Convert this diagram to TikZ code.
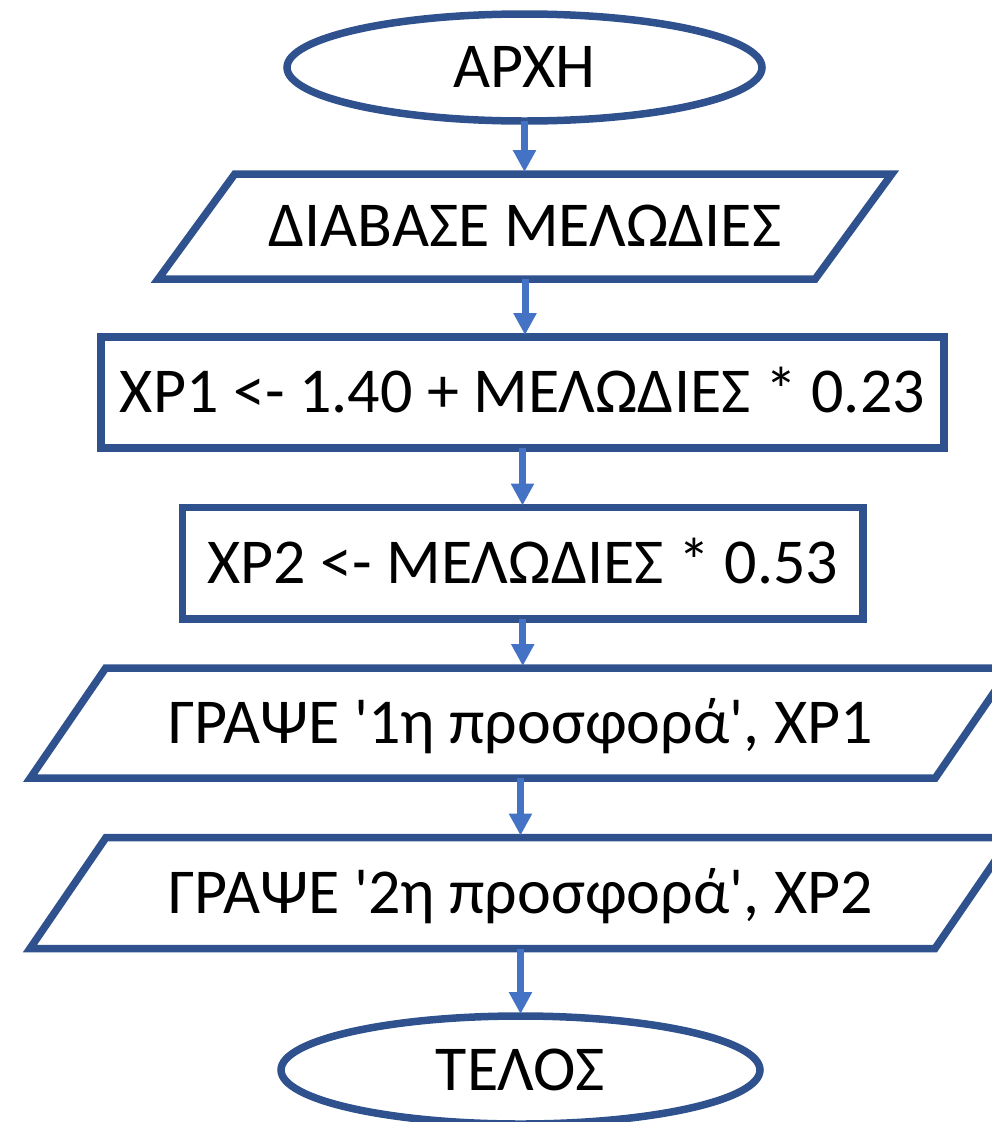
\documentclass[tikz,border=0pt]{standalone}
\usepackage{fontspec}
\setmainfont{Carlito}[Ligatures=TeXOff]
\usetikzlibrary{shapes.geometric,arrows.meta,calc}
\definecolor{edgeblue}{HTML}{2F528F}
\definecolor{arrblue}{HTML}{4472C4}
\tikzset{
  basebox/.style={inner sep=0pt, outer sep=0pt, text height=40.5bp, text depth=0pt,
    font=\fontsize{64bp}{77bp}\selectfont, text=black},
  term/.style={basebox, ellipse, draw=edgeblue, line width=7.5bp},
  proc/.style={basebox, rectangle, draw=edgeblue, line width=7.5bp},
  iobox/.style={basebox, rectangle},
  ioline/.style={draw=edgeblue, line width=7.5bp, line join=miter},
  flow/.style={draw=arrblue, line width=7bp, -{Triangle[length=22bp,width=22bp]}, shorten >=2bp}
}
\begin{document}
\begin{tikzpicture}[x=1bp,y=-1bp]
\useasboundingbox (0,0) rectangle (992,1122);
\node[term, minimum width=475bp, minimum height=107bp] (start) at (524.5,67.5) {ΑΡΧΗ};
\node[iobox, minimum width=657bp, minimum height=105bp] (in) at (525,226.5) {ΔΙΑΒΑΣΕ ΜΕΛΩΔΙΕΣ};
\draw[ioline] ($(in.north west)+(38.3,0)$) -- ($(in.north east)+(38.3,0)$) -- ($(in.south east)+(-38.3,0)$) -- ($(in.south west)+(-38.3,0)$) -- cycle;
\node[proc, minimum width=843bp, minimum height=111bp] (c1) at (522.5,392.5) {ΧΡ1 <- 1.40 + ΜΕΛΩΔΙΕΣ * 0.23};
\node[proc, minimum width=680.5bp, minimum height=111.5bp] (c2) at (522.75,563.25) {ΧΡ2 <- ΜΕΛΩΔΙΕΣ * 0.53};
\node[iobox, minimum width=905bp, minimum height=110bp] (o1) at (520.5,723) {ΓΡΑΨΕ '1η προσφορά', ΧΡ1};
\draw[ioline] ($(o1.north west)+(37.7,0)$) -- ($(o1.north east)+(37.7,0)$) -- ($(o1.south east)+(-37.7,0)$) -- ($(o1.south west)+(-37.7,0)$) -- cycle;
\node[iobox, minimum width=905bp, minimum height=111bp] (o2) at (520.5,893) {ΓΡΑΨΕ '2η προσφορά', ΧΡ2};
\draw[ioline] ($(o2.north west)+(38,0)$) -- ($(o2.north east)+(38,0)$) -- ($(o2.south east)+(-38,0)$) -- ($(o2.south west)+(-38,0)$) -- cycle;
\node[term, minimum width=479bp, minimum height=108bp] (end) at (520.5,1070) {ΤΕΛΟΣ};
\draw[flow] (start.south) -- (start.south |- in.north);
\draw[flow] (in.south) -- (in.south |- c1.north);
\draw[flow] (c1.south) -- (c1.south |- c2.north);
\draw[flow] (c2.south) -- (c2.south |- o1.north);
\draw[flow] (o1.south) -- (o1.south |- o2.north);
\draw[flow] (o2.south) -- (o2.south |- end.north);
\end{tikzpicture}
\end{document}
